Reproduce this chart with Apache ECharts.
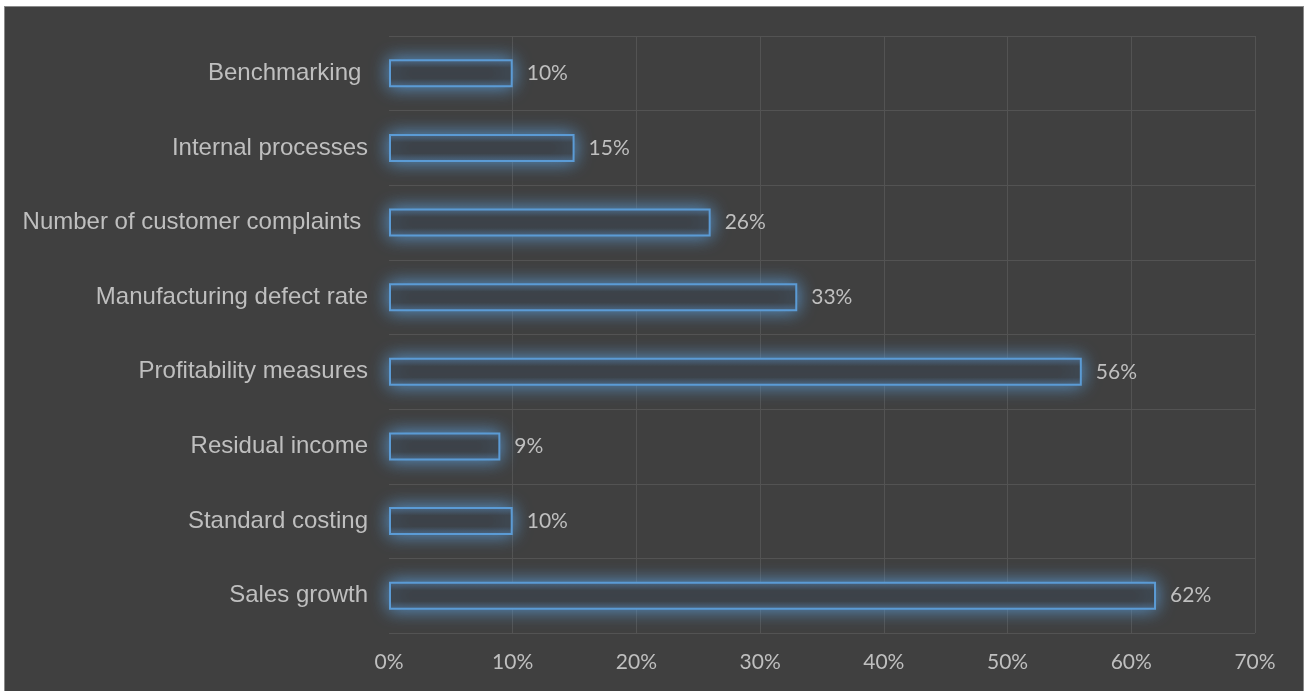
<!DOCTYPE html>
<html>
<head>
<meta charset="utf-8">
<script src="https://cdn.jsdelivr.net/npm/echarts@6/dist/echarts.min.js"></script>
<style>
  html, body { margin: 0; padding: 0; background: #ffffff; }
  #frame {
    position: absolute; left: 4px; top: 6px; width: 1300px; height: 685px;
    background: #404040; box-sizing: border-box;
    border-left: 1px solid #8a8a8a; border-top: 1px solid #8a8a8a; border-right: 1px solid #8a8a8a;
  }
  #chart { position: absolute; left: 0; top: 0; width: 1306px; height: 691px; }
</style>
</head>
<body>
<div id="frame"></div>
<div id="chart"></div>
<script>
// Performance measures in use (share of respondents), listed bottom to top
const categories = [
  'Sales growth',
  'Standard costing',
  'Residual income',
  'Profitability measures',
  'Manufacturing defect rate',
  'Number of customer complaints ',
  'Internal processes',
  'Benchmarking '
];
const shares = [62, 10, 9, 56, 33, 26, 15, 10];
const tickValues = [0, 10, 20, 30, 40, 50, 60, 70];

const textColor = '#bfbfbf';
const gridColor = '#535353';
const barBlue = '#5B9BD5';

const chart = echarts.init(document.getElementById('chart'), null, { renderer: 'canvas' });

chart.setOption({
  backgroundColor: 'transparent',
  animation: false,
  grid: { left: 389, right: 51, top: 36, bottom: 58, containLabel: false },
  xAxis: {
    type: 'value',
    min: tickValues[0],
    max: tickValues[tickValues.length - 1],
    interval: 10,
    axisLine: { show: false },
    axisTick: { show: false },
    axisLabel: {
      color: textColor,
      fontFamily: 'Lato',
      fontSize: 21,
      margin: 19,
      formatter: v => v + '%'
    },
    splitLine: { show: true, showMinLine: false, lineStyle: { color: gridColor, width: 1 } }
  },
  yAxis: {
    type: 'category',
    data: categories,
    axisLine: { show: false },
    axisTick: { show: false },
    axisLabel: {
      color: textColor,
      fontFamily: 'Liberation Sans, Arial',
      fontSize: 24,
      margin: 21
    },
    splitLine: { show: true, lineStyle: { color: gridColor, width: 1 } }
  },
  series: [
    {
      type: 'bar',
      data: shares,
      barWidth: 28,
      itemStyle: {
        // outlined bar with a soft inner and outer blue glow
        color: new echarts.graphic.LinearGradient(0, 0, 0, 1, [
          { offset: 0, color: '#4b6580' },
          { offset: 0.3, color: '#3b3d40' },
          { offset: 0.7, color: '#3b3d40' },
          { offset: 1, color: '#4b6580' }
        ]),
        borderColor: barBlue,
        borderWidth: 2,
        shadowBlur: 18,
        shadowColor: 'rgba(91,155,213,0.95)'
      },
      label: {
        show: true,
        position: 'right',
        distance: 14,
        color: textColor,
        fontFamily: 'Lato',
        fontSize: 21,
        formatter: p => p.value + '%'
      }
    }
  ]
});
</script>
</body>
</html>
